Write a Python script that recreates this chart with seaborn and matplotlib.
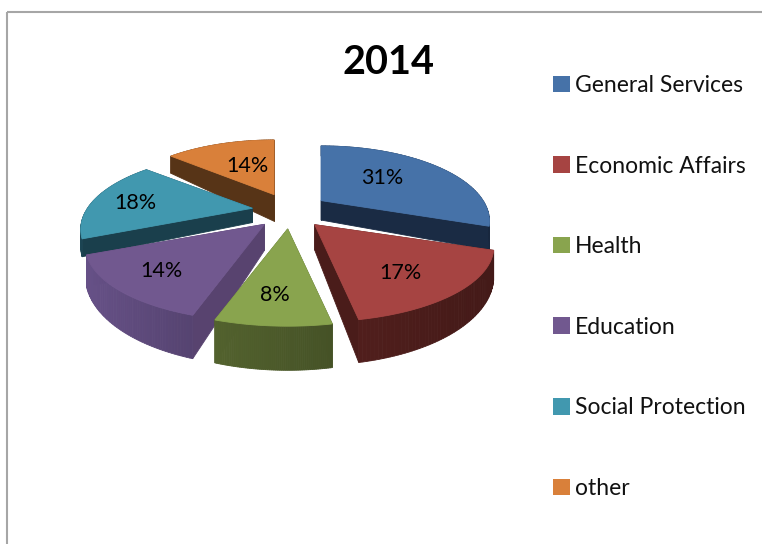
import numpy as np
import matplotlib
matplotlib.use("Agg")
import matplotlib.pyplot as plt
from matplotlib.patches import Patch
from matplotlib.colors import to_rgb
import seaborn as sns

title = "2014"
categories = ["General Services", "Economic Affairs", "Health", "Education", "Social Protection", "other"]
shares = [31, 17, 8, 14, 18, 14]
top_colors = ["#4672A8", "#A64442", "#89A44E", "#71588F", "#4198AF", "#D9803A"]
cut_colors = ["#1A2B44", "#4A1C1A", "#4F5F2E", "#58436F", "#1A3F4C", "#573417"]
wall_colors = ["#1A2B44", "#4A1C1A", "#4C5A2A", "#5E4A7C", "#1A3F4C", "#573417"]
depth_scale = [0.9, 0.97, 0.97, 1.0, 0.62, 1.3]
label_dx = [-18, 0, -4, -14, -12, 11]
label_dy = [2, 8, 9, 7, 2, 7]

sns.set_theme(style="white")
plt.rcParams["font.family"] = ["Lato", "DejaVu Sans"]

fig, ax = plt.subplots(figsize=(7.62, 5.44), dpi=100)
ax.set_position([0, 0, 1, 1])
ax.set_xlim(0, 762)
ax.set_ylim(544, 0)
ax.axis("off")

CX, CY, EX, EY = 290, 211, 38, 18
A, B, K, KE = 166, 70, 0.28, 0.15


def depth(sy, scale):
    return (12 + 0.19 * (sy - 150)) * scale


vals = np.array(shares, float)
edges = np.concatenate([[0], np.cumsum(vals)]) / vals.sum() * 2 * np.pi


def local(th, dy, r=1.0):
    u, v = r * np.sin(th), r * np.cos(th)
    s = 1 / (1 + K * v)
    sx = 1 / (1 + K * (v + KE * dy))
    return A * u * sx, -B * v * s


def draw_quad(p, q, colour, z, scale):
    xs = [p[0], q[0], q[0], p[0]]
    ys = [p[1], q[1], q[1] + depth(q[1], scale), p[1] + depth(p[1], scale)]
    ax.fill(xs, ys, color=colour, lw=0.6, zorder=z)


order = [5, 0, 4, 1, 3, 2]
for rank, i in enumerate(order):
    t0, t1 = edges[i], edges[i + 1]
    mid = (t0 + t1) / 2
    dy = np.cos(mid)
    ox = CX + EX * np.sin(mid)
    oy = CY - EY * dy
    ts = np.linspace(t0, t1, 60)
    lx, ly = local(ts, dy)
    rim = np.column_stack([ox + lx, oy + ly])
    apex = np.array([ox, oy])
    base = 10 + rank * 4
    faces = []
    for a, b in zip(rim[:-1], rim[1:]):
        faces.append(((a + b)[1] / 2, a, b, "wall"))
    faces.append(((apex + rim[0])[1] / 2, apex, rim[0], "cut"))
    faces.append(((apex + rim[-1])[1] / 2, apex, rim[-1], "cut"))
    faces.sort(key=lambda f: f[0])
    for _, a, b, kind in faces:
        if kind == "cut":
            c = cut_colors[i]
        else:
            f = 1.0 + 0.18 * (0.5 - (a[0] - rim[:, 0].min()) / max(np.ptp(rim[:, 0]), 1))
            c = tuple(min(1, x * f) for x in to_rgb(wall_colors[i]))
        draw_quad(a, b, c, base, depth_scale[i])
    ax.fill(np.r_[ox, rim[:, 0]], np.r_[oy, rim[:, 1]], color=top_colors[i], lw=0.6, zorder=base + 1)
    tx, ty = local(mid, dy, 0.66)
    ax.text(ox + tx + label_dx[i], oy + ty + label_dy[i], f"{shares[i]}%", ha="center", va="center",
            fontsize=15.5, color="black", zorder=60)

ax.text(388, 62, title, ha="center", va="center", fontsize=28.5, fontweight="bold", color="black")
ax.hlines(12, 7, 762, color="#A6A6A6", lw=1.5)
ax.vlines(7, 12, 544, color="#A6A6A6", lw=1.5)

handles = [Patch(facecolor=c, edgecolor="none") for c in top_colors]
ax.legend(handles, categories, loc="upper left", bbox_to_anchor=(553, 75), bbox_transform=ax.transData,
          frameon=False, fontsize=16.5, handlelength=0.74, handleheight=0.74, handletextpad=0.22,
          labelspacing=2.6, borderpad=0, borderaxespad=0, labelcolor="#111111")

fig.savefig("out.png", dpi=100)
